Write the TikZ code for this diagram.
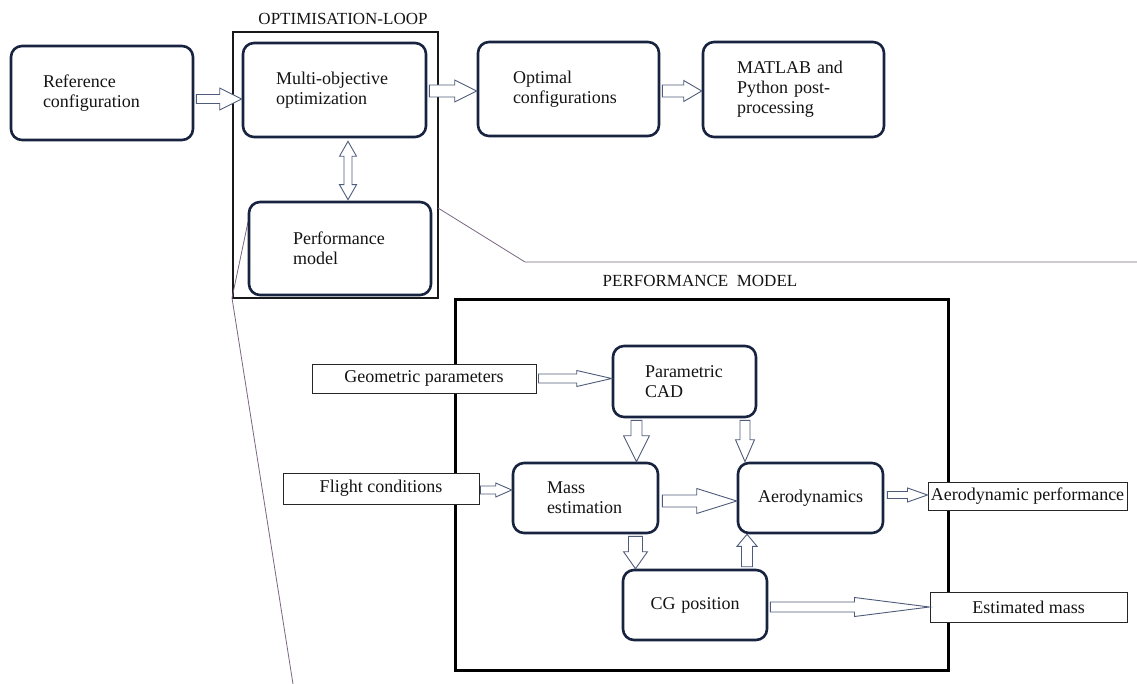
\documentclass[tikz,border=0pt]{standalone}
\usepackage{fontspec}
\setmainfont{Liberation Serif}
\usetikzlibrary{calc}
\definecolor{boxc}{HTML}{17233F}
\definecolor{arrc}{HTML}{4F5B7A}
\definecolor{magc}{HTML}{7A6680}
\definecolor{txtc}{HTML}{141414}
\def\baSW{5pt}\def\baHW{10pt}\def\baHL{20pt}
\tikzset{
  arsw/.code={\def\baSW{#1}},
  arhw/.code={\def\baHW{#1}},
  arhl/.code={\def\baHL{#1}},
  txt/.style={font=\fontsize{18}{20}\selectfont, text=txtc},
  rbox/.style={txt, draw=boxc, line width=2.6pt, rounded corners=11pt, fill=white, align=left, inner ysep=2pt},
  pbox/.style={txt, draw=black!85, line width=1pt, fill=white, inner sep=1pt, align=center},
  blockar/.style={draw=arrc, fill=white, line width=0.9pt, line join=miter,
    to path={let \p1=(\tikztostart), \p2=(\tikztotarget), \n1={atan2(\y2-\y1,\x2-\x1)} in
      ($(\p1)+(\n1+90:\baSW)$) -- ($(\p2)+(\n1+180:\baHL)+(\n1+90:\baSW)$)
      -- ($(\p2)+(\n1+180:\baHL)+(\n1+90:\baHW)$) -- (\p2)
      -- ($(\p2)+(\n1+180:\baHL)+(\n1-90:\baHW)$) -- ($(\p2)+(\n1+180:\baHL)+(\n1-90:\baSW)$)
      -- ($(\p1)+(\n1-90:\baSW)$) -- cycle}},
  blockdbl/.style={draw=arrc, fill=white, line width=0.9pt, line join=miter,
    to path={let \p1=(\tikztostart), \p2=(\tikztotarget), \n1={atan2(\y2-\y1,\x2-\x1)} in
      (\p1) -- ($(\p1)+(\n1:\baHL)+(\n1+90:\baHW)$) -- ($(\p1)+(\n1:\baHL)+(\n1+90:\baSW)$)
      -- ($(\p2)+(\n1+180:\baHL)+(\n1+90:\baSW)$) -- ($(\p2)+(\n1+180:\baHL)+(\n1+90:\baHW)$)
      -- (\p2) -- ($(\p2)+(\n1+180:\baHL)+(\n1-90:\baHW)$) -- ($(\p2)+(\n1+180:\baHL)+(\n1-90:\baSW)$)
      -- ($(\p1)+(\n1:\baHL)+(\n1-90:\baSW)$) -- ($(\p1)+(\n1:\baHL)+(\n1-90:\baHW)$) -- cycle}},
  maglines/.style={draw=magc, line width=0.8pt},
}
\begin{document}
\begin{tikzpicture}[x=1pt, y=-1pt]
\useasboundingbox (0,0) rectangle (1137,684);

% frames
\node[draw=black!90, line width=1.1pt, minimum width=205pt, minimum height=266pt, inner sep=0pt] (loop) at (335.5,165) {};
\node[txt, font=\fontsize{17}{20}\selectfont] (looptitle) at (343,19) {OPTIMISATION-LOOP};
\node[draw=black, line width=3pt, minimum width=493pt, minimum height=370pt, inner sep=0pt] (pm) at (701.5,485) {};
\node[txt, font=\fontsize{17}{20}\selectfont] (pmtitle) at (700,281) {PERFORMANCE\ \ MODEL};

% magnifier lines
\draw[maglines] (438,208) -- (525,262) -- (1137,262);
\draw[maglines] (248,222) -- (232,298) -- (293,684);

% top row
\node[rbox, minimum width=182pt, minimum height=94pt, inner xsep=32pt, text width=118pt] (ref) at (102,93) {Reference\\configuration};
\node[rbox, minimum width=183pt, minimum height=94pt, inner xsep=33pt, text width=117pt] (multi) at (334.5,90) {Multi-objective\\optimization};
\node[rbox, minimum width=182pt, minimum height=93pt, inner xsep=44pt, text width=94pt] (perf) at (340,248.5) {Performance\\model};
\node[rbox, minimum width=181pt, minimum height=94pt, inner xsep=35pt, text width=111pt] (opt) at (568.5,89) {Optimal\\configurations};
\node[rbox, minimum width=181pt, minimum height=95pt, inner xsep=34pt, text width=113pt] (matlab) at (793.5,89.5) {MATLAB and\\Python post-\\processing};

% performance model
\node[rbox, minimum width=143pt, minimum height=71pt, inner xsep=32pt, text width=79pt] (cad) at (684.5,381.5) {Parametric\\CAD};
\node[rbox, minimum width=145pt, minimum height=70pt, inner xsep=34pt, text width=77pt] (mass) at (585.5,498) {Mass\\estimation};
\node[rbox, minimum width=145pt, minimum height=70pt, inner xsep=5pt, text width=135pt, align=center] (aero) at (810.5,498) {Aerodynamics};
\node[rbox, minimum width=144pt, minimum height=70pt, inner xsep=5pt, text width=134pt, align=center] (cg) at (695,605) {CG position};

\node[pbox, minimum width=224pt, minimum height=29pt] (geo) at (424,378.5) {Geometric parameters};
\node[pbox, minimum width=196pt, minimum height=31pt] (flight) at (381,488.5) {Flight conditions};
\node[pbox, minimum width=199pt, minimum height=28pt] (aperf) at (1027.5,496) {Aerodynamic performance};
\node[pbox, minimum width=197pt, minimum height=30pt] (est) at (1028.5,607) {Estimated mass};

% arrow start points for vertical arrows
\coordinate (cadL) at ($(cad.south)+(-48,2)$);
\coordinate (cadR) at ($(cad.south)+(60.5,2)$);
\coordinate (massB) at ($(mass.south)+(50,2)$);
\coordinate (cgT) at ($(cg.north)+(52,-2)$);
\coordinate (multiB) at ($(multi.south)+(13.5,3)$);

% arrows
\draw[blockar, arsw=4.5pt, arhw=11pt, arhl=22pt] ($(ref.east)+(2,6)$) to ($(ref.east -| multi.west)+(0,6)$);
\draw[blockar, arsw=6pt, arhw=11pt, arhl=22pt] ($(multi.east)+(2,1)$) to ($(multi.east -| opt.west)+(0,1)$);
\draw[blockar, arsw=6pt, arhw=10.5pt, arhl=18pt] ($(opt.east)+(2,2)$) to ($(opt.east -| matlab.west)+(0,2)$);
\draw[blockdbl, arsw=4pt, arhw=8.5pt, arhl=15pt] (multiB) to ($(multiB |- perf.north)+(0,-1)$);

\draw[blockar, arsw=4.5pt, arhw=8pt, arhl=35pt] ($(geo.east)+(2,0)$) to (geo.east -| cad.west);
\draw[blockar, arsw=4pt, arhw=7pt, arhl=16pt] ($(flight.east)+(1,1.5)$) to ($(flight.east -| mass.west)+(0,1.5)$);
\draw[blockar, arsw=6pt, arhw=12.5pt, arhl=40pt] ($(mass.east)+(3,3)$) to ($(mass.east -| aero.west)+(0,3)$);
\draw[blockar, arsw=3.5pt, arhw=7pt, arhl=20pt] ($(aero.east)+(3,-3)$) to ($(aero.east -| aperf.west)+(0,-3)$);
\draw[blockar, arsw=5.5pt, arhw=13pt, arhl=26pt] (cadL) to (cadL |- mass.north);
\draw[blockar, arsw=5pt, arhw=9.5pt, arhl=22pt] (cadR) to (cadR |- aero.north);
\draw[blockar, arsw=7pt, arhw=12pt, arhl=17pt] (massB) to (massB |- cg.north);
\draw[blockar, arsw=5.5pt, arhw=10pt, arhl=12pt] (cgT) to (cgT |- aero.south);
\draw[blockar, arsw=5pt, arhw=9.5pt, arhl=75pt] ($(cg.east)+(2,2)$) to ($(cg.east -| est.west)+(0,2)$);
\end{tikzpicture}
\end{document}
